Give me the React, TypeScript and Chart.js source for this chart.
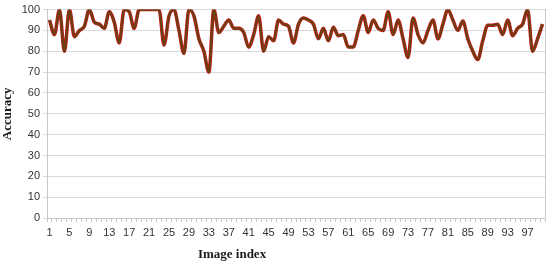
import React, { useEffect, useRef } from "react";
import { Chart, registerables } from "chart.js";

Chart.register(...registerables);

const imageIndex: string[] = Array.from({ length: 100 }, (_, i) => String(i + 1));

const accuracy: number[] = [
  95, 88, 100, 80, 100, 87, 90, 92, 100, 94,
  93, 91, 99, 94, 84, 100, 99, 91, 100, 100,
  100, 100, 100, 83, 97, 100, 90, 79, 100, 97,
  86, 80, 70, 100, 89, 92, 95, 91, 91, 89,
  82, 88, 97, 80, 87, 85, 95, 93, 92, 84,
  93, 96, 95, 93, 86, 91, 85, 91.5, 87.5, 88,
  82, 82, 90, 97, 89, 95, 91, 90, 99, 88,
  95, 86, 77, 96, 88, 84, 90, 95, 86, 93,
  100, 95, 90, 94.5, 86, 80, 76, 85, 92.5, 92.5,
  93, 88, 95, 87.5, 91, 93, 100, 80, 86, 93,
];

const yTicks: number[] = [0, 10, 20, 30, 40, 50, 60, 70, 80, 90, 100];
const xTitle = "Image index";
const yTitle = "Accuracy";

export default function App() {
  const ref = useRef<HTMLCanvasElement | null>(null);

  useEffect(() => {
    if (!ref.current) return;
    const xTitlePlugin = {
      id: "xTitlePlugin",
      afterDraw(chart: any) {
        const ctx = chart.ctx;
        ctx.save();
        ctx.font = "bold 13px 'Liberation Serif'";
        ctx.fillStyle = "#1a1a1a";
        ctx.textAlign = "center";
        ctx.textBaseline = "middle";
        ctx.fillText(xTitle, 232, 255);
        ctx.restore();
      },
    };
    const chart = new Chart(ref.current, {
      type: "line",
      data: {
        labels: imageIndex,
        datasets: [
          {
            data: accuracy,
            borderColor: "#6a4012",
            borderWidth: 2.2,
            pointRadius: 0,
            tension: 0.4,
            cubicInterpolationMode: "monotone",
            fill: false,
            order: 0,
          },
          {
            data: accuracy,
            borderColor: "#c8161a",
            borderWidth: 3.5,
            pointRadius: 0,
            tension: 0.4,
            cubicInterpolationMode: "monotone",
            fill: false,
            order: 1,
          },
        ],
      },
      options: {
        animation: false,
        responsive: false,
        maintainAspectRatio: false,
        layout: { padding: { top: 3, right: 5, left: 0, bottom: 0 } },
        plugins: { legend: { display: false }, tooltip: { enabled: false } },
        scales: {
          x: {
            offset: true,
            grid: {
              offset: true,
              drawOnChartArea: false,
              drawTicks: true,
              tickLength: 4,
              color: "#c8c8c8",
            },
            border: { color: "#c8c8c8" },
            ticks: {
              autoSkip: false,
              maxRotation: 0,
              minRotation: 0,
              padding: 4,
              color: "#333333",
              font: { family: "'Liberation Sans'", size: 11 },
              callback: (_v: any, i: number) => (i % 4 === 0 ? imageIndex[i] : ""),
            },
            afterFit: (s: any) => {
              s.height = 48;
            },
          },
          y: {
            min: 0,
            max: 100,
            afterBuildTicks: (s: any) => {
              s.ticks = yTicks.map((v) => ({ value: v }));
            },
            grid: { color: "#d9d9d9", tickLength: 4, lineWidth: 1 },
            border: { color: "#c8c8c8" },
            ticks: {
              color: "#333333",
              padding: 3,
              font: { family: "'Liberation Sans'", size: 11 },
            },
            title: {
              display: true,
              text: yTitle,
              color: "#1a1a1a",
              font: { family: "'Liberation Serif'", size: 13, weight: "bold" },
              padding: { top: 0, bottom: 2 },
            },
            afterFit: (s: any) => {
              s.width = 47;
            },
          },
          yRight: {
            position: "right",
            min: 0,
            max: 100,
            grid: { display: false },
            ticks: { display: false },
            border: { display: true, color: "#c8c8c8" },
            afterFit: (s: any) => {
              s.width = 0;
            },
          },
        },
      },
      plugins: [xTitlePlugin],
    } as any);
    return () => chart.destroy();
  }, []);

  return (
    <div style={{ position: "absolute", left: 0, top: 0, width: 550, height: 266, background: "#fff" }}>
      <canvas ref={ref} width={550} height={266} />
    </div>
  );
}
